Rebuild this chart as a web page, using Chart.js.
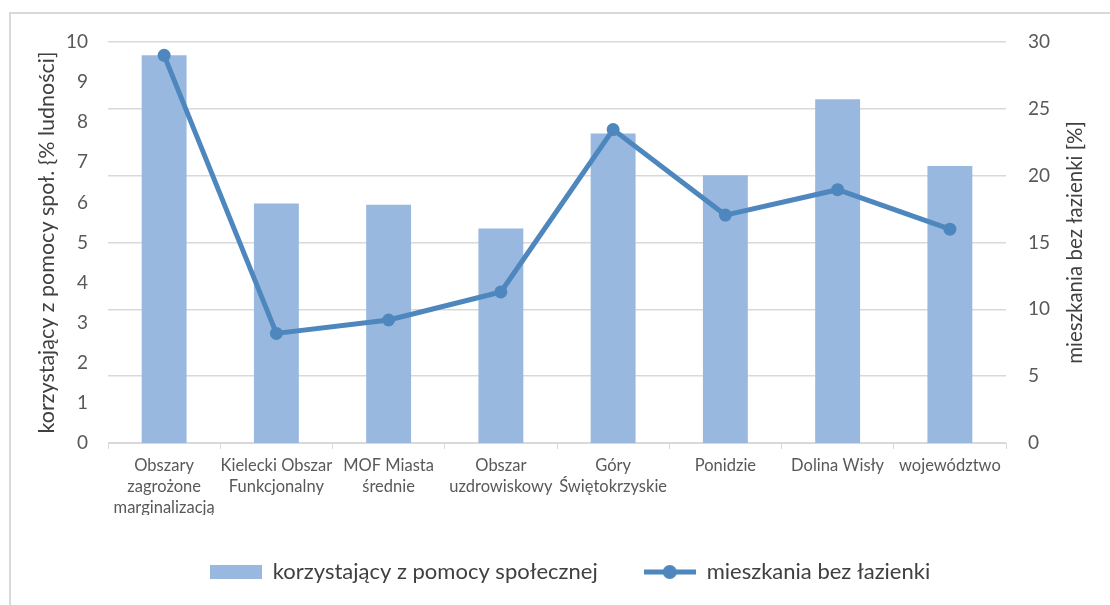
<!DOCTYPE html>
<html>
<head>
<meta charset="utf-8">
<script src="https://cdn.jsdelivr.net/npm/chart.js@4.4.1/dist/chart.umd.min.js"></script>
<style>
  html, body { margin: 0; padding: 0; background: #fff; }
  #wrap { position: relative; width: 1110px; height: 605px; overflow: hidden; }
  #frame { position: absolute; left: 9px; top: 12px; width: 1200px; height: 700px;
           border-left: 2px solid #d9d9d9; border-top: 2px solid #d9d9d9; }
  canvas { position: absolute; left: 0; top: 0; }
</style>
</head>
<body>
<div id="wrap">
  <div id="frame"></div>
  <canvas id="myChart" width="1110" height="605"></canvas>
</div>
<script>
// dane
var categories = [
  ['Obszary', 'zagrożone', 'marginalizacją'],
  ['Kielecki Obszar', 'Funkcjonalny'],
  ['MOF Miasta', 'średnie'],
  ['Obszar', 'uzdrowiskowy'],
  ['Góry', 'Świętokrzyskie'],
  'Ponidzie',
  'Dolina Wisły',
  'województwo'
];
var pomocSpoleczna = [9.67, 5.97, 5.94, 5.35, 7.72, 6.68, 8.57, 6.91];
var bezLazienki = [29.0, 8.2, 9.2, 11.3, 23.45, 17.05, 18.95, 16.0];
var leftTicks = [0, 1, 2, 3, 4, 5, 6, 7, 8, 9, 10];
var rightTicks = [0, 5, 10, 15, 20, 25, 30];

var barColor = '#98b8df';
var lineColor = '#4e87bd';
var font = 'Lato, "Open Sans", sans-serif';

// ikonki do legendy
function legendIcon(kind) {
  var c = document.createElement('canvas');
  c.width = 52; c.height = 16;
  var g = c.getContext('2d');
  if (kind === 'bar') {
    g.fillStyle = barColor;
    g.fillRect(0, 1, 52, 14);
  } else {
    g.strokeStyle = lineColor;
    g.lineWidth = 5;
    g.beginPath(); g.moveTo(0, 8); g.lineTo(52, 8); g.stroke();
    g.fillStyle = lineColor;
    g.beginPath(); g.arc(26, 8, 7, 0, Math.PI * 2); g.fill();
  }
  return c;
}
var iconBar = legendIcon('bar');
var iconLine = legendIcon('line');

// tytuł prawej osi czytany od dołu do góry
var rightTitle = {
  id: 'rightTitle',
  afterDraw: function (chart) {
    var s = chart.scales.y1;
    var ctx = chart.ctx;
    ctx.save();
    ctx.translate(s.right - 35, (s.top + s.bottom) / 2);
    ctx.rotate(-Math.PI / 2);
    ctx.font = '20.5px ' + font;
    ctx.fillStyle = '#404040';
    ctx.textAlign = 'center';
    ctx.textBaseline = 'middle';
    ctx.fillText('mieszkania bez łazienki [%]', 0, 0);
    ctx.restore();
  }
};

const ctx = document.getElementById('myChart');
const config = {
  data: {
    labels: categories,
    datasets: [{
      type: 'bar',
      label: 'korzystający z pomocy społecznej',
      data: pomocSpoleczna,
      backgroundColor: barColor,
      yAxisID: 'y',
      barPercentage: 0.4,
      categoryPercentage: 1,
      order: 2
    }, {
      type: 'line',
      label: 'mieszkania bez łazienki',
      data: bezLazienki,
      borderColor: lineColor,
      backgroundColor: lineColor,
      borderWidth: 5,
      pointRadius: 6.5,
      pointHoverRadius: 6.5,
      pointBorderWidth: 0,
      yAxisID: 'y1',
      order: 1
    }]
  },
  options: {
    responsive: false,
    animation: false,
    layout: { padding: { top: 42, left: 30, right: 0, bottom: 12 } },
    plugins: {
      tooltip: { enabled: false },
      legend: {
        position: 'bottom',
        labels: {
          usePointStyle: true,
          pointStyleWidth: 52,
          boxHeight: 16,
          padding: 46,
          color: '#404040',
          font: { family: font, size: 22 },
          generateLabels: function () {
            return [
              { text: 'korzystający z pomocy społecznej', pointStyle: iconBar, datasetIndex: 0, fillStyle: barColor, strokeStyle: barColor, lineWidth: 0, fontColor: '#404040' },
              { text: 'mieszkania bez łazienki', pointStyle: iconLine, datasetIndex: 1, fillStyle: lineColor, strokeStyle: lineColor, lineWidth: 0, fontColor: '#404040' }
            ];
          }
        }
      }
    },
    scales: {
      x: {
        grid: { display: true, drawOnChartArea: false, drawTicks: true, tickLength: 6, color: '#d9d9d9', offset: true },
        border: { color: '#d9d9d9', width: 1 },
        ticks: { color: '#595959', font: { family: font, size: 16.5, lineHeight: 1.27 }, maxRotation: 0, autoSkip: false, padding: 6 },
        afterFit: function (scale) { scale.height = 72; }
      },
      y: {
        position: 'left',
        min: 0, max: 10,
        afterBuildTicks: function (scale) { scale.ticks = leftTicks.map(function (v) { return { value: v }; }); },
        grid: { display: false },
        border: { display: false },
        ticks: { color: '#595959', font: { family: font, size: 19 }, padding: 12 },
        title: { display: true, text: 'korzystający z pomocy społ. {% ludności]', color: '#404040', font: { family: font, size: 21.5 }, padding: { top: 4, bottom: 0 } },
        afterFit: function (scale) { scale.width = 78; }
      },
      y1: {
        position: 'right',
        min: 0, max: 30,
        afterBuildTicks: function (scale) { scale.ticks = rightTicks.map(function (v) { return { value: v }; }); },
        grid: { color: '#d9d9d9', lineWidth: 1.5, drawTicks: false },
        border: { display: false },
        ticks: { color: '#595959', font: { family: font, size: 19 }, padding: 22 },
        afterFit: function (scale) { scale.width = 104; }
      }
    }
  },
  plugins: [rightTitle]
};

chart = new Chart(ctx, config);
</script>
</body>
</html>
